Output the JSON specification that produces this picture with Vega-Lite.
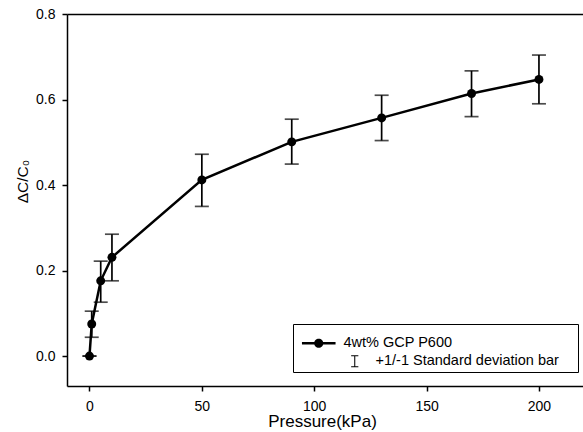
{
  "$schema": "https://vega.github.io/schema/vega-lite/v6.json",
  "width": 516,
  "height": 372,
  "autosize": "none",
  "padding": {"left": 67, "top": 14, "right": 0, "bottom": 46},
  "background": "white",
  "config": {
    "view": {"stroke": null},
    "font": "Liberation Sans",
    "axis": {"grid": false, "domainColor": "black", "domainWidth": 1.5, "tickColor": "black", "tickWidth": 1.5, "tickSize": 5, "labelColor": "black", "labelFontSize": 14, "labelFont": "Liberation Sans", "titleColor": "black", "titleFontWeight": "normal", "titleFont": "Liberation Sans"},
    "legend": {"titleFontSize": 10, "titlePadding": 2, "padding": 0, "symbolSize": 64, "symbolFillColor": "black", "symbolStrokeColor": "black", "symbolStrokeWidth": 0, "symbolOpacity": 1, "symbolOffset": 18.5, "labelOffset": 17.5, "labelFontSize": 14.5, "labelColor": "black", "labelFont": "Liberation Sans", "labelLimit": 400, "rowPadding": 2}
  },
  "data": {
    "values": [
      {"p": 0, "v": 0.0, "lo": 0.0, "hi": 0.0},
      {"p": 1, "v": 0.075, "lo": 0.044, "hi": 0.105},
      {"p": 5, "v": 0.176, "lo": 0.126, "hi": 0.222},
      {"p": 10, "v": 0.231, "lo": 0.176, "hi": 0.285},
      {"p": 50, "v": 0.412, "lo": 0.35, "hi": 0.472},
      {"p": 90, "v": 0.501, "lo": 0.449, "hi": 0.554},
      {"p": 130, "v": 0.557, "lo": 0.504, "hi": 0.61},
      {"p": 170, "v": 0.614, "lo": 0.56, "hi": 0.667},
      {"p": 200, "v": 0.647, "lo": 0.59, "hi": 0.704}
    ]
  },
  "resolve": {"axis": {"x": "independent", "y": "independent"}, "scale": {"shape": "independent"}, "legend": {"shape": "independent"}},
  "layer": [
    {
      "mark": {"type": "errorbar", "ticks": {"size": 14}, "color": "black", "thickness": 1.7},
      "encoding": {
        "x": {"field": "p", "type": "quantitative", "scale": {"domain": [-10, 219.6], "nice": false, "zero": false}, "axis": null},
        "y": {"field": "lo", "type": "quantitative", "scale": {"domain": [-0.07, 0.8], "nice": false, "zero": false}, "axis": null},
        "y2": {"field": "hi"}
      }
    },
    {
      "mark": {"type": "line", "color": "black", "strokeWidth": 2.5},
      "encoding": {
        "x": {"field": "p", "type": "quantitative", "axis": {"orient": "top", "labels": false, "ticks": false, "title": null, "domain": true}},
        "y": {"field": "v", "type": "quantitative", "axis": null}
      }
    },
    {
      "mark": {"type": "point", "filled": true, "color": "black", "size": 80, "opacity": 1},
      "encoding": {
        "x": {"field": "p", "type": "quantitative", "axis": {"orient": "bottom", "values": [0, 50, 100, 150, 200], "labelPadding": 8, "title": "Pressure(kPa)", "titleFontSize": 17, "titleAlign": "center", "titleBaseline": "alphabetic", "titleX": 255, "titleY": 40}},
        "y": {"field": "v", "type": "quantitative", "axis": {"orient": "left", "values": [0, 0.2, 0.4, 0.6, 0.8], "format": ".1f", "labelPadding": 7, "title": "ΔC/C₀", "titleFontSize": 15.5, "titleAngle": 270, "titleAlign": "center", "titleBaseline": "middle", "titleX": -45, "titleY": 167}}
      }
    },
    {
      "data": {"values": [{"s": "4wt% GCP P600", "p": 0, "v": 0}]},
      "mark": {"type": "point", "filled": true, "color": "black", "opacity": 0},
      "encoding": {
        "x": {"field": "p", "type": "quantitative", "axis": null},
        "y": {"field": "v", "type": "quantitative", "axis": null},
        "shape": {
          "field": "s",
          "type": "nominal",
          "scale": {
            "domain": ["4wt% GCP P600"],
            "range": ["M-4.2,-0.3H4.2V0.3H-4.2Z M-1.15,0A1.15,1.15 0 1,1 1.15,0A1.15,1.15 0 1,1 -1.15,0Z M64.6,7Z"]
          },
          "legend": {"orient": "none", "legendX": 226, "legendY": 310, "strokeColor": "black", "title": " "}
        }
      }
    },
    {
      "data": {"values": [{"s2": "+1/-1 Standard deviation bar", "p": 0, "v": 0}]},
      "mark": {"type": "point", "filled": true, "color": "black", "opacity": 0},
      "encoding": {
        "x": {"field": "p", "type": "quantitative", "axis": null},
        "y": {"field": "v", "type": "quantitative", "axis": null},
        "shape": {
          "field": "s2",
          "type": "nominal",
          "scale": {
            "domain": ["+1/-1 Standard deviation bar"],
            "range": ["M0.1,-1.5H1.9V-1.25H0.1Z M0.87,-1.25H1.13V1.25H0.87Z M0.1,1.25H1.9V1.5H0.1Z"]
          },
          "legend": {"orient": "none", "legendX": 258, "legendY": 328, "title": " "}
        }
      }
    }
  ]
}
